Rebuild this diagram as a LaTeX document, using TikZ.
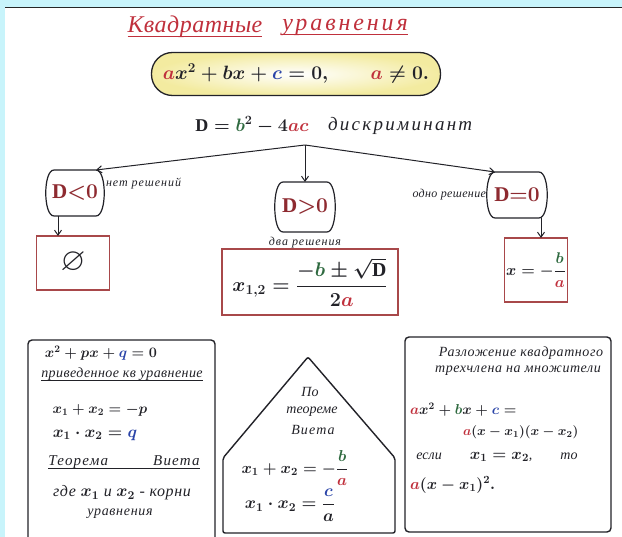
\RequirePackage{fix-cm}
\documentclass[tikz,border=0pt]{standalone}
\usepackage{amssymb}
\usepackage{fontspec}
\setmainfont{Liberation Serif}
\usetikzlibrary{arrows.meta}
\definecolor{cyanbg}{HTML}{C8F4FB}
\definecolor{hred}{HTML}{C0303C}
\definecolor{dred}{HTML}{8E2A30}
\definecolor{hgreen}{HTML}{2F6A40}
\definecolor{hblue}{HTML}{2A44A8}
\definecolor{boxred}{HTML}{A8484A}
\definecolor{ink}{HTML}{222228}
\definecolor{hyellow}{HTML}{F3EBA0}
\newcommand\dispframe[1]{%
  \draw[ink, line width=1.2pt] ([xshift=8pt]#1.north west) -- ([xshift=-8pt]#1.north east)
    .. controls ([xshift=3pt]#1.north east) and ([xshift=3pt]#1.south east) .. ([xshift=-8pt]#1.south east)
    -- ([xshift=8pt]#1.south west)
    .. controls ([xshift=-3pt]#1.south west) and ([xshift=-3pt]#1.north west) .. ([xshift=8pt]#1.north west) -- cycle;}
\newcommand\uline[1]{%
  \draw[ink, line width=0.6pt] ([yshift=-3pt]#1.base west) -- ([yshift=-3pt]#1.base east);}
\begin{document}
\begin{tikzpicture}[x=1pt,y=-1pt,
  every node/.style={inner sep=0pt, outer sep=0pt},
  ru/.style={font=\fontsize{14}{16}\selectfont\itshape, text=ink},
  rus/.style={font=\fontsize{12}{14}\selectfont\itshape, text=ink},
  mth/.style={font=\fontsize{16}{20}\selectfont\boldmath, text=ink},
  ttl/.style={font=\fontsize{24}{26}\selectfont\itshape, text=hred},
  arr/.style={-{Straight Barb[length=5pt,width=7pt]}, line width=1pt, draw=ink},
  redbox/.style={draw=boxred, line width=1.3pt},
  frame/.style={draw=ink, line width=1.4pt, rounded corners=4pt},
  dnode/.style={minimum width=60, minimum height=46, font=\fontsize{21}{24}\selectfont\boldmath, text=dred}]
\clip (0,0) rectangle (622,537);
\fill[white] (0,0) rectangle (622,537);
\fill[cyanbg] (0,0) rectangle (622,7);
\fill[cyanbg] (0,0) rectangle (5,537);
\draw[line width=1.6pt, black!85] (5,7.5) -- (622,7.5);
% title
\node[ttl] (t1) at (195,27) {\addfontfeature{LetterSpace=2}Квадратные};
\node[ttl] (t2) at (345,27) {\addfontfeature{LetterSpace=12}уравнения};
\draw[hred, line width=1pt] ([yshift=-4pt]t1.base west) -- ([yshift=-4pt]t1.base east);
\draw[hred, line width=1pt] ([yshift=-4pt]t2.base west) -- ([yshift=-4pt]t2.base east);
% main equation
\node[draw=ink, line width=1.3pt, rounded corners=21pt, minimum width=289, minimum height=43,
  inner color=white, outer color=hyellow, font=\fontsize{19.3}{24}\selectfont\boldmath, text=ink]
  (eq) at (296,74) {$ {\color{hred}a}x^2+bx+{\color{hblue}c}=0,\qquad {\color{hred}a}\neq 0.$};
% discriminant
\node[font=\fontsize{18}{22}\selectfont\boldmath, text=ink] (disc) at (252,125)
  {$\mathrm{D}= {\color{hgreen}b}^2-4{\color{hred}ac}$};
\node[font=\fontsize{19}{22}\selectfont\itshape, text=ink, anchor=west] (dw) at (328,126)
  {\addfontfeature{LetterSpace=12}дискриминант};
\coordinate (top) at (305,145);
% decision nodes
\node[dnode, minimum width=58] (lt) at (75,193) {$\mathrm{D}{<}0$};
\node[dnode, minimum height=50] (md) at (305,207) {$\mathrm{D}{>}0$};
\node[dnode] (rt) at (517,195) {$\mathrm{D}{=}0$};
\dispframe{lt}
\dispframe{md}
\dispframe{rt}
\draw[arr] (top) -- ([xshift=-8pt]lt.north east);
\draw[arr] (top) -- (md.north);
\draw[arr] (top) -- ([xshift=8pt]rt.north west);
\node[rus, anchor=west] (nr) at (106,184) {\addfontfeature{LetterSpace=8}нет решений};
\node[rus, anchor=east] (odn) at (486,195) {\addfontfeature{LetterSpace=3}одно решение};
\node[rus] (dva) at (305,243) {\addfontfeature{LetterSpace=8}два решения};
% result boxes
\node[redbox, minimum width=73, minimum height=54, font=\fontsize{20}{24}\selectfont\boldmath, text=ink] (empty) at (73,263) {\scalebox{1.6}{$\varnothing$}};
\node[redbox, minimum width=176, minimum height=66, font=\fontsize{19.8}{24}\selectfont\boldmath, text=ink] (two) at (310,282)
  {$\displaystyle x_{1,2}=\frac{-{\color{hgreen}b}\pm\sqrt{\mathrm{D}}}{2{\color{hred}a}}$};
\node[redbox, minimum width=63, minimum height=64, font=\fontsize{15.5}{18}\selectfont\boldmath, text=ink] (one) at (536,270)
  {$\displaystyle x=-\frac{{\color{hgreen}b}}{{\color{hred}a}}$};
\draw[arr] ([xshift=12pt]lt.south west) -- ([xshift=12pt]lt.south west |- empty.north);
\draw[arr] ([xshift=-6pt]rt.south east) -- ([xshift=-6pt]rt.south east |- one.north);
% bottom frames
\draw[frame] (28,545) -- (28,340) -- (215,340) -- (215,545);
\draw[frame, rounded corners=2pt] (223,533) -- (223,458) -- (308,357) -- (395,458) -- (395,533) -- cycle;
\draw[frame] (405,337) rectangle (611,532);
% left frame text
\node[mth, font=\fontsize{14.4}{18}\selectfont\boldmath] (l1) at (101,353) {$x^2+px+{\color{hblue}q}=0$};
\node[ru] (l2) at (122,374) {\addfontfeature{LetterSpace=3}приведенное кв уравнение};
\uline{l2}
\node[mth, font=\fontsize{14.4}{18}\selectfont\boldmath] (l3) at (100,410) {$x_1+x_2=-p$};
\node[mth, font=\fontsize{16.5}{20}\selectfont\boldmath] (l4) at (95,435) {$x_1\cdot x_2={\color{hblue}q}$};
\node[ru, font=\fontsize{15}{17}\selectfont\itshape] (l5) at (124,462) {\addfontfeature{LetterSpace=8}Теорема\qquad\quad Виета};
\uline{l5}
\node[ru, font=\fontsize{16}{18}\selectfont\itshape] (l6) at (122,493)
  {\addfontfeature{LetterSpace=4}где {\fontsize{17}{20}\selectfont\boldmath$x_1$} и {\fontsize{17}{20}\selectfont\boldmath$x_2$} - корни};
\node[ru] (l7) at (120,514) {\addfontfeature{LetterSpace=5}уравнения};
% middle frame text
\node[ru] (m1) at (310,392) {По};
\node[ru] (m2) at (312,412) {теореме};
\node[ru] (m3) at (313,430) {\addfontfeature{LetterSpace=8}Виета};
\node[mth, font=\fontsize{15.8}{20}\selectfont\boldmath] (m4) at (295,468) {$\displaystyle x_1+x_2=-\frac{{\color{hgreen}b}}{{\color{hred}a}}$};
\node[mth, font=\fontsize{17}{22}\selectfont\boldmath] (m5) at (290,505) {$\displaystyle x_1\cdot x_2=\frac{{\color{hblue}c}}{a}$};
% right frame text
\node[ru] (r1) at (521,353) {\addfontfeature{LetterSpace=4}Разложение квадратного};
\node[ru] (r2) at (518,371) {\addfontfeature{LetterSpace=4}трехчлена на множители};
\node[mth, anchor=west, font=\fontsize{14.4}{18}\selectfont\boldmath] (r3) at (410,410) {${\color{hred}a}x^2+{\color{hgreen}b}x+{\color{hblue}c}=$};
\node[mth, anchor=west, font=\fontsize{13.2}{16}\selectfont\boldmath] (r4) at (463,432) {${\color{hred}a}(x-x_1)(x-x_2)$};
\node[ru] (r5) at (497,457) {если\qquad {\fontsize{16}{20}\selectfont\boldmath$x_1=x_2$},\qquad то};
\node[mth, anchor=west, font=\fontsize{15.7}{20}\selectfont\boldmath] (r6) at (410,485) {${\color{hred}a}(x-x_1)^2.$};
\end{tikzpicture}
\end{document}
